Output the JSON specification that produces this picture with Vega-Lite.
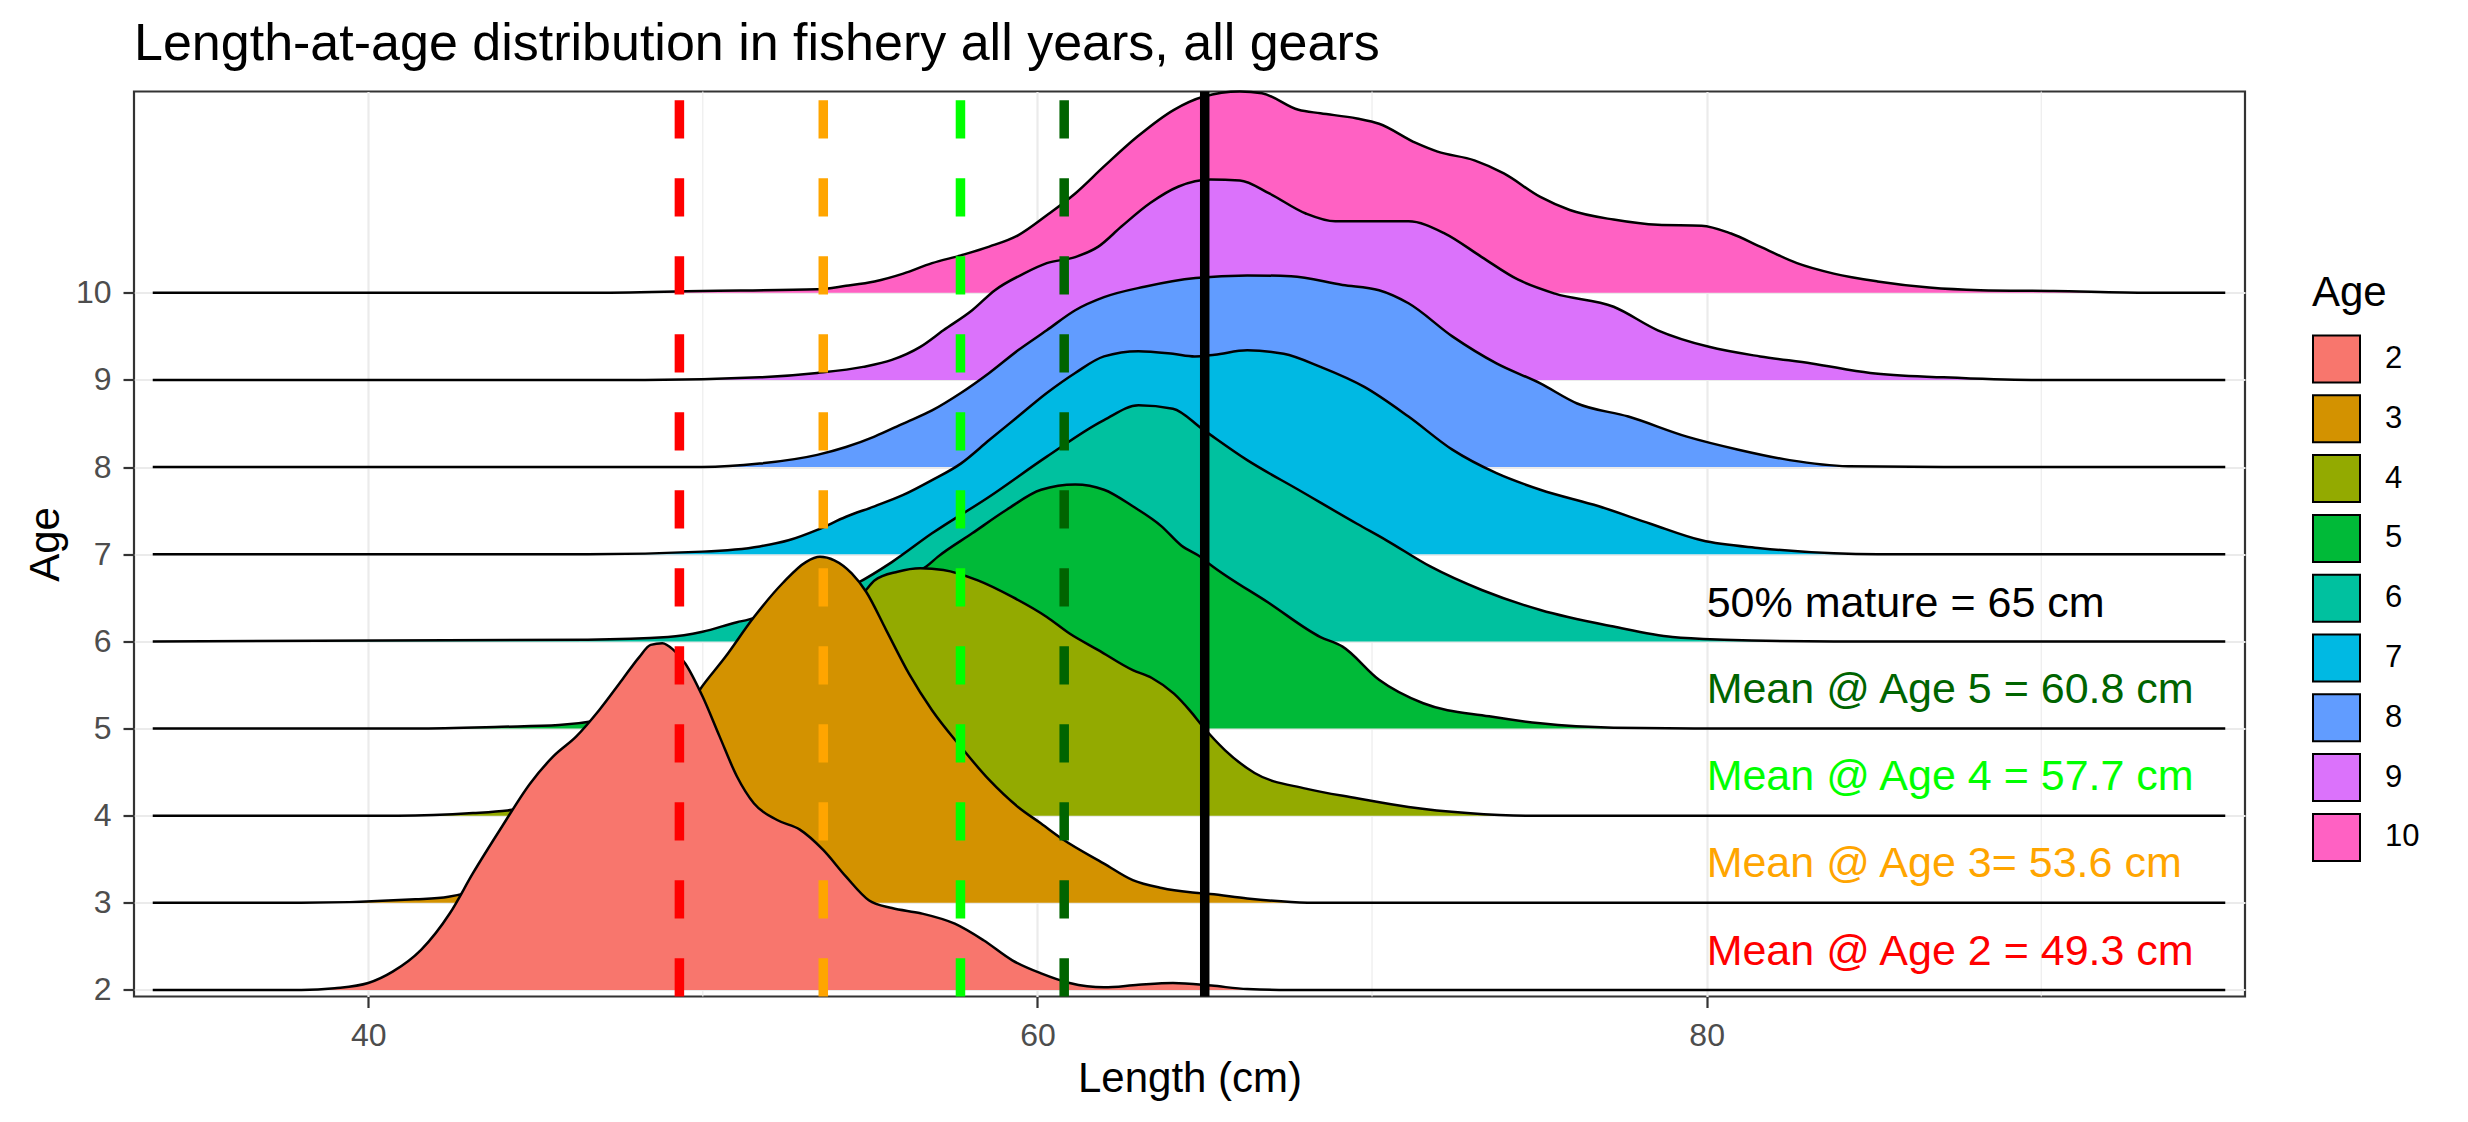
{
  "$schema": "https://vega.github.io/schema/vega-lite/v6.json",
  "width": 2111,
  "height": 905,
  "autosize": {"type": "none"},
  "padding": {"left": 134, "top": 91.5, "right": 223, "bottom": 125.5},
  "background": "white",
  "title": {"text": "Length-at-age distribution in fishery all years, all gears", "anchor": "start", "frame": "group", "fontSize": 52, "fontWeight": "normal", "color": "black", "font": "Liberation Sans", "baseline": "alphabetic", "offset": -25},
  "datasets": {
    "minor": [{"length": 50}, {"length": 70}, {"length": 90}],
    "means": [{"ref": "Age 2", "length": 49.3}, {"ref": "Age 3", "length": 53.6}, {"ref": "Age 4", "length": 57.7}, {"ref": "Age 5", "length": 60.8}],
    "mature": [{"ref": "Mature", "length": 65}],
    "notes": [
      {"ref": "Mature", "label": "50% mature = 65 cm", "length": 80, "level": 6.43},
      {"ref": "Age 5", "label": "Mean @ Age 5 = 60.8 cm", "length": 80, "level": 5.44},
      {"ref": "Age 4", "label": "Mean @ Age 4 = 57.7 cm", "length": 80, "level": 4.44},
      {"ref": "Age 3", "label": "Mean @ Age 3= 53.6 cm", "length": 80, "level": 3.44},
      {"ref": "Age 2", "label": "Mean @ Age 2 = 49.3 cm", "length": 80, "level": 2.44}
    ],
    "ridges": [
      {"age":2,"length":33.56,"top":2},{"age":2,"length":38,"top":2},{"age":2,"length":39,"top":2.02},{"age":2,"length":40,"top":2.08},{"age":2,"length":40.73,"top":2.21},{"age":2,"length":41.58,"top":2.46},{"age":2,"length":42.44,"top":2.88},{"age":2,"length":43.13,"top":3.34},{"age":2,"length":43.99,"top":3.87},{"age":2,"length":44.84,"top":4.37},{"age":2,"length":45.53,"top":4.68},{"age":2,"length":46.22,"top":4.91},{"age":2,"length":46.9,"top":5.21},{"age":2,"length":47.59,"top":5.56},{"age":2,"length":48.1,"top":5.82},{"age":2,"length":48.44,"top":5.96},{"age":2,"length":48.79,"top":5.98},{"age":2,"length":49.13,"top":5.9},{"age":2,"length":49.47,"top":5.75},{"age":2,"length":49.99,"top":5.37},{"age":2,"length":50.5,"top":4.91},{"age":2,"length":51.02,"top":4.45},{"age":2,"length":51.53,"top":4.14},{"age":2,"length":52.22,"top":3.95},{"age":2,"length":52.9,"top":3.84},{"age":2,"length":53.59,"top":3.61},{"age":2,"length":54.28,"top":3.3},{"age":2,"length":54.96,"top":3.03},{"age":2,"length":55.65,"top":2.94},{"age":2,"length":56.51,"top":2.88},{"age":2,"length":57.53,"top":2.76},{"age":2,"length":58.39,"top":2.57},{"age":2,"length":59.25,"top":2.34},{"age":2,"length":60.11,"top":2.19},{"age":2,"length":60.96,"top":2.08},{"age":2,"length":61.99,"top":2.03},{"age":2,"length":63.02,"top":2.06},{"age":2,"length":64.05,"top":2.08},{"age":2,"length":65.2,"top":2.05},{"age":2,"length":66.27,"top":2.01},{"age":2,"length":67.5,"top":2},{"age":2,"length":95.5,"top":2},
      {"age":3,"length":33.56,"top":3},{"age":3,"length":38,"top":3},{"age":3,"length":41.41,"top":3.04},{"age":3,"length":42.4,"top":3.07},{"age":3,"length":43,"top":3.12},{"age":3,"length":44.5,"top":3.35},{"age":3,"length":46,"top":3.75},{"age":3,"length":47.5,"top":4.3},{"age":3,"length":48.7,"top":4.8},{"age":3,"length":49.5,"top":5.2},{"age":3,"length":49.9,"top":5.44},{"age":3,"length":50.67,"top":5.82},{"age":3,"length":51.53,"top":6.28},{"age":3,"length":52.39,"top":6.67},{"age":3,"length":53.08,"top":6.91},{"age":3,"length":53.5,"top":6.97},{"age":3,"length":53.93,"top":6.93},{"age":3,"length":54.45,"top":6.78},{"age":3,"length":54.88,"top":6.57},{"age":3,"length":55.48,"top":6.13},{"age":3,"length":56.16,"top":5.63},{"age":3,"length":56.85,"top":5.21},{"age":3,"length":57.71,"top":4.79},{"age":3,"length":58.56,"top":4.41},{"age":3,"length":59.42,"top":4.1},{"age":3,"length":60.11,"top":3.91},{"age":3,"length":60.79,"top":3.72},{"age":3,"length":61.99,"top":3.45},{"age":3,"length":62.85,"top":3.26},{"age":3,"length":63.71,"top":3.17},{"age":3,"length":64.57,"top":3.12},{"age":3,"length":65.17,"top":3.1},{"age":3,"length":66.27,"top":3.05},{"age":3,"length":67.58,"top":3.01},{"age":3,"length":68.5,"top":3},{"age":3,"length":95.5,"top":3},
      {"age":4,"length":33.56,"top":4},{"age":4,"length":40.9,"top":4},{"age":4,"length":43.13,"top":4.03},{"age":4,"length":44.16,"top":4.06},{"age":4,"length":46,"top":4.2},{"age":4,"length":48,"top":4.5},{"age":4,"length":50,"top":5.0},{"age":4,"length":52,"top":5.6},{"age":4,"length":53.5,"top":6.1},{"age":4,"length":54.5,"top":6.45},{"age":4,"length":54.88,"top":6.59},{"age":4,"length":55.13,"top":6.7},{"age":4,"length":55.82,"top":6.8},{"age":4,"length":56.5,"top":6.84},{"age":4,"length":57.19,"top":6.82},{"age":4,"length":58.22,"top":6.7},{"age":4,"length":59.25,"top":6.51},{"age":4,"length":60.28,"top":6.28},{"age":4,"length":60.96,"top":6.09},{"age":4,"length":61.82,"top":5.9},{"age":4,"length":62.85,"top":5.67},{"age":4,"length":63.42,"top":5.58},{"age":4,"length":64.08,"top":5.4},{"age":4,"length":64.57,"top":5.2},{"age":4,"length":64.95,"top":5.02},{"age":4,"length":65.61,"top":4.75},{"age":4,"length":66.49,"top":4.49},{"age":4,"length":68.02,"top":4.31},{"age":4,"length":69.55,"top":4.2},{"age":4,"length":71.09,"top":4.1},{"age":4,"length":72.84,"top":4.03},{"age":4,"length":74.59,"top":4},{"age":4,"length":95.5,"top":4},
      {"age":5,"length":33.56,"top":5},{"age":5,"length":41.41,"top":5},{"age":5,"length":43.99,"top":5.02},{"age":5,"length":45.7,"top":5.04},{"age":5,"length":47,"top":5.1},{"age":5,"length":49,"top":5.3},{"age":5,"length":51,"top":5.6},{"age":5,"length":53,"top":6.0},{"age":5,"length":55,"top":6.45},{"age":5,"length":56.3,"top":6.78},{"age":5,"length":56.68,"top":6.86},{"age":5,"length":57.02,"top":6.97},{"age":5,"length":58.05,"top":7.24},{"age":5,"length":59.08,"top":7.51},{"age":5,"length":60.11,"top":7.74},{"age":5,"length":61.13,"top":7.8},{"age":5,"length":61.99,"top":7.74},{"age":5,"length":62.85,"top":7.55},{"age":5,"length":63.71,"top":7.32},{"age":5,"length":64.3,"top":7.1},{"age":5,"length":64.87,"top":6.97},{"age":5,"length":65.17,"top":6.88},{"age":5,"length":66.92,"top":6.44},{"age":5,"length":68.46,"top":6.05},{"age":5,"length":69.12,"top":5.94},{"age":5,"length":70.21,"top":5.56},{"age":5,"length":71.53,"top":5.29},{"age":5,"length":73.5,"top":5.14},{"age":5,"length":75.03,"top":5.06},{"age":5,"length":77.22,"top":5.01},{"age":5,"length":80.07,"top":5},{"age":5,"length":95.5,"top":5},
      {"age":6,"length":33.56,"top":6},{"age":6,"length":46.56,"top":6.02},{"age":6,"length":48.96,"top":6.05},{"age":6,"length":49.99,"top":6.11},{"age":6,"length":51.02,"top":6.22},{"age":6,"length":51.36,"top":6.25},{"age":6,"length":52,"top":6.33},{"age":6,"length":53,"top":6.45},{"age":6,"length":54,"top":6.56},{"age":6,"length":54.62,"top":6.67},{"age":6,"length":55.65,"top":6.91},{"age":6,"length":56.85,"top":7.24},{"age":6,"length":58.56,"top":7.66},{"age":6,"length":60.28,"top":8.12},{"age":6,"length":61.99,"top":8.54},{"age":6,"length":63.02,"top":8.71},{"age":6,"length":64.05,"top":8.67},{"age":6,"length":64.95,"top":8.43},{"age":6,"length":66.27,"top":8.08},{"age":6,"length":67.8,"top":7.74},{"age":6,"length":69.55,"top":7.35},{"age":6,"length":70.43,"top":7.16},{"age":6,"length":71.74,"top":6.86},{"age":6,"length":73.28,"top":6.59},{"age":6,"length":75.03,"top":6.36},{"age":6,"length":77.22,"top":6.17},{"age":6,"length":78.98,"top":6.05},{"age":6,"length":80.51,"top":6.02},{"age":6,"length":83.8,"top":6},{"age":6,"length":95.5,"top":6},
      {"age":7,"length":33.56,"top":7},{"age":7,"length":46.56,"top":7},{"age":7,"length":49.99,"top":7.03},{"age":7,"length":51.7,"top":7.09},{"age":7,"length":52.56,"top":7.16},{"age":7,"length":53.42,"top":7.28},{"age":7,"length":54.28,"top":7.43},{"age":7,"length":55.13,"top":7.55},{"age":7,"length":55.99,"top":7.68},{"age":7,"length":56.85,"top":7.85},{"age":7,"length":57.71,"top":8.04},{"age":7,"length":58.56,"top":8.31},{"age":7,"length":59.42,"top":8.58},{"age":7,"length":60.28,"top":8.85},{"age":7,"length":61.13,"top":9.08},{"age":7,"length":61.99,"top":9.27},{"age":7,"length":63.02,"top":9.33},{"age":7,"length":64.05,"top":9.3},{"age":7,"length":64.7,"top":9.27},{"age":7,"length":65.3,"top":9.29},{"age":7,"length":66.27,"top":9.34},{"age":7,"length":67.36,"top":9.3},{"age":7,"length":68.46,"top":9.15},{"age":7,"length":69.77,"top":8.92},{"age":7,"length":71.09,"top":8.58},{"age":7,"length":72.4,"top":8.2},{"age":7,"length":73.72,"top":7.93},{"age":7,"length":75.03,"top":7.74},{"age":7,"length":76.78,"top":7.55},{"age":7,"length":78.32,"top":7.35},{"age":7,"length":79.85,"top":7.16},{"age":7,"length":81.6,"top":7.07},{"age":7,"length":83.8,"top":7.01},{"age":7,"length":85.11,"top":7},{"age":7,"length":95.5,"top":7},
      {"age":8,"length":33.56,"top":8},{"age":8,"length":49.99,"top":8},{"age":8,"length":51.7,"top":8.04},{"age":8,"length":53.42,"top":8.14},{"age":8,"length":54.28,"top":8.23},{"age":8,"length":55.13,"top":8.35},{"age":8,"length":55.99,"top":8.5},{"age":8,"length":56.85,"top":8.65},{"age":8,"length":57.71,"top":8.85},{"age":8,"length":58.56,"top":9.08},{"age":8,"length":59.42,"top":9.34},{"age":8,"length":60.28,"top":9.57},{"age":8,"length":61.13,"top":9.8},{"age":8,"length":61.99,"top":9.95},{"age":8,"length":63.2,"top":10.07},{"age":8,"length":64.73,"top":10.17},{"age":8,"length":66.27,"top":10.2},{"age":8,"length":67.58,"top":10.19},{"age":8,"length":69.12,"top":10.09},{"age":8,"length":70.21,"top":10.03},{"age":8,"length":71.09,"top":9.88},{"age":8,"length":72.4,"top":9.5},{"age":8,"length":73.72,"top":9.19},{"age":8,"length":75.03,"top":8.96},{"age":8,"length":76.13,"top":8.73},{"age":8,"length":77.66,"top":8.58},{"age":8,"length":79.41,"top":8.35},{"age":8,"length":80.95,"top":8.2},{"age":8,"length":82.48,"top":8.08},{"age":8,"length":84.23,"top":8.01},{"age":8,"length":87.08,"top":8},{"age":8,"length":95.5,"top":8},
      {"age":9,"length":33.56,"top":9},{"age":9,"length":48.27,"top":9},{"age":9,"length":51.7,"top":9.03},{"age":9,"length":53.42,"top":9.08},{"age":9,"length":54.79,"top":9.15},{"age":9,"length":55.65,"top":9.23},{"age":9,"length":56.5,"top":9.38},{"age":9,"length":57.19,"top":9.57},{"age":9,"length":58.05,"top":9.8},{"age":9,"length":58.73,"top":10.03},{"age":9,"length":59.59,"top":10.22},{"age":9,"length":60.28,"top":10.34},{"age":9,"length":61.13,"top":10.41},{"age":9,"length":61.82,"top":10.53},{"age":9,"length":62.51,"top":10.76},{"age":9,"length":63.37,"top":11.03},{"age":9,"length":64.22,"top":11.22},{"age":9,"length":65.17,"top":11.3},{"age":9,"length":66.05,"top":11.29},{"age":9,"length":66.93,"top":11.14},{"age":9,"length":68.02,"top":10.91},{"age":9,"length":68.9,"top":10.82},{"age":9,"length":71.09,"top":10.82},{"age":9,"length":72.18,"top":10.68},{"age":9,"length":73.28,"top":10.41},{"age":9,"length":74.37,"top":10.15},{"age":9,"length":75.47,"top":9.99},{"age":9,"length":77.22,"top":9.84},{"age":9,"length":78.54,"top":9.57},{"age":9,"length":80.07,"top":9.38},{"age":9,"length":81.6,"top":9.27},{"age":9,"length":83.14,"top":9.19},{"age":9,"length":84.89,"top":9.08},{"age":9,"length":87.08,"top":9.03},{"age":9,"length":89.71,"top":9},{"age":9,"length":95.5,"top":9},
      {"age":10,"length":33.56,"top":10},{"age":10,"length":46.56,"top":10},{"age":10,"length":49.99,"top":10.02},{"age":10,"length":53.42,"top":10.04},{"age":10,"length":54.28,"top":10.08},{"age":10,"length":55.13,"top":10.13},{"age":10,"length":55.99,"top":10.22},{"age":10,"length":56.85,"top":10.34},{"age":10,"length":57.71,"top":10.43},{"age":10,"length":58.56,"top":10.53},{"age":10,"length":59.42,"top":10.66},{"age":10,"length":60.28,"top":10.89},{"age":10,"length":61.13,"top":11.14},{"age":10,"length":61.99,"top":11.45},{"age":10,"length":62.98,"top":11.79},{"age":10,"length":64.08,"top":12.1},{"age":10,"length":64.95,"top":12.25},{"age":10,"length":66.05,"top":12.31},{"age":10,"length":66.71,"top":12.29},{"age":10,"length":67.8,"top":12.1},{"age":10,"length":68.46,"top":12.06},{"age":10,"length":69.55,"top":12.0},{"age":10,"length":70.21,"top":11.94},{"age":10,"length":71.31,"top":11.72},{"age":10,"length":71.96,"top":11.62},{"age":10,"length":73.06,"top":11.52},{"age":10,"length":73.94,"top":11.37},{"age":10,"length":75.03,"top":11.1},{"age":10,"length":75.91,"top":10.95},{"age":10,"length":77.22,"top":10.84},{"age":10,"length":78.54,"top":10.78},{"age":10,"length":79.85,"top":10.77},{"age":10,"length":80.73,"top":10.68},{"age":10,"length":81.6,"top":10.53},{"age":10,"length":82.7,"top":10.34},{"age":10,"length":83.8,"top":10.22},{"age":10,"length":85.11,"top":10.13},{"age":10,"length":86.65,"top":10.06},{"age":10,"length":88.18,"top":10.03},{"age":10,"length":90.37,"top":10.02},{"age":10,"length":93.22,"top":10},{"age":10,"length":95.5,"top":10}
    ]
  },
  "layer": [
    {
      "data": {"name": "minor"},
      "mark": {"type": "rule", "color": "#EBEBEB", "strokeWidth": 1.1},
      "encoding": {
        "x": {"field": "length", "type": "quantitative", "title": "Length (cm)", "scale": {"domain": [33, 96.09], "nice": false, "zero": false}, "axis": {"values": [40, 60, 80], "format": "d"}}
      }
    },
    {
      "data": {"name": "ridges"},
      "encoding": {
        "x": {"field": "length", "type": "quantitative", "title": "Length (cm)", "scale": {"domain": [33, 96.09], "nice": false, "zero": false}, "axis": {"values": [40, 60, 80], "format": "d"}},
        "y": {"field": "top", "type": "quantitative", "title": "Age", "scale": {"domain": [1.925, 12.31], "nice": false, "zero": false}, "axis": {"values": [2, 3, 4, 5, 6, 7, 8, 9, 10], "format": "d"}}
      },
      "layer": [
        {"transform": [{"filter": "datum.age === 10"}], "layer": [
          {"mark": {"type": "area", "interpolate": "monotone"}, "encoding": {"y2": {"field": "age"}, "fill": {"field": "age", "type": "ordinal", "title": "Age", "scale": {"domain": [2, 3, 4, 5, 6, 7, 8, 9, 10], "range": ["#F8766D", "#D39200", "#93AA00", "#00BA38", "#00C19F", "#00B9E3", "#619CFF", "#DB72FB", "#FF61C3"]}, "legend": {"orient": "none", "legendX": 2178, "legendY": 181}}}},
          {"mark": {"type": "line", "interpolate": "monotone", "color": "black", "strokeWidth": 2.5}, "encoding": {}}
        ]},
        {"transform": [{"filter": "datum.age === 9"}], "layer": [
          {"mark": {"type": "area", "interpolate": "monotone"}, "encoding": {"y2": {"field": "age"}, "fill": {"field": "age", "type": "ordinal", "title": "Age", "legend": {"orient": "none", "legendX": 2178, "legendY": 181}}}},
          {"mark": {"type": "line", "interpolate": "monotone", "color": "black", "strokeWidth": 2.5}, "encoding": {}}
        ]},
        {"transform": [{"filter": "datum.age === 8"}], "layer": [
          {"mark": {"type": "area", "interpolate": "monotone"}, "encoding": {"y2": {"field": "age"}, "fill": {"field": "age", "type": "ordinal", "title": "Age", "legend": {"orient": "none", "legendX": 2178, "legendY": 181}}}},
          {"mark": {"type": "line", "interpolate": "monotone", "color": "black", "strokeWidth": 2.5}, "encoding": {}}
        ]},
        {"transform": [{"filter": "datum.age === 7"}], "layer": [
          {"mark": {"type": "area", "interpolate": "monotone"}, "encoding": {"y2": {"field": "age"}, "fill": {"field": "age", "type": "ordinal", "title": "Age", "legend": {"orient": "none", "legendX": 2178, "legendY": 181}}}},
          {"mark": {"type": "line", "interpolate": "monotone", "color": "black", "strokeWidth": 2.5}, "encoding": {}}
        ]},
        {"transform": [{"filter": "datum.age === 6"}], "layer": [
          {"mark": {"type": "area", "interpolate": "monotone"}, "encoding": {"y2": {"field": "age"}, "fill": {"field": "age", "type": "ordinal", "title": "Age", "legend": {"orient": "none", "legendX": 2178, "legendY": 181}}}},
          {"mark": {"type": "line", "interpolate": "monotone", "color": "black", "strokeWidth": 2.5}, "encoding": {}}
        ]},
        {"transform": [{"filter": "datum.age === 5"}], "layer": [
          {"mark": {"type": "area", "interpolate": "monotone"}, "encoding": {"y2": {"field": "age"}, "fill": {"field": "age", "type": "ordinal", "title": "Age", "legend": {"orient": "none", "legendX": 2178, "legendY": 181}}}},
          {"mark": {"type": "line", "interpolate": "monotone", "color": "black", "strokeWidth": 2.5}, "encoding": {}}
        ]},
        {"transform": [{"filter": "datum.age === 4"}], "layer": [
          {"mark": {"type": "area", "interpolate": "monotone"}, "encoding": {"y2": {"field": "age"}, "fill": {"field": "age", "type": "ordinal", "title": "Age", "legend": {"orient": "none", "legendX": 2178, "legendY": 181}}}},
          {"mark": {"type": "line", "interpolate": "monotone", "color": "black", "strokeWidth": 2.5}, "encoding": {}}
        ]},
        {"transform": [{"filter": "datum.age === 3"}], "layer": [
          {"mark": {"type": "area", "interpolate": "monotone"}, "encoding": {"y2": {"field": "age"}, "fill": {"field": "age", "type": "ordinal", "title": "Age", "legend": {"orient": "none", "legendX": 2178, "legendY": 181}}}},
          {"mark": {"type": "line", "interpolate": "monotone", "color": "black", "strokeWidth": 2.5}, "encoding": {}}
        ]},
        {"transform": [{"filter": "datum.age === 2"}], "layer": [
          {"mark": {"type": "area", "interpolate": "monotone"}, "encoding": {"y2": {"field": "age"}, "fill": {"field": "age", "type": "ordinal", "title": "Age", "legend": {"orient": "none", "legendX": 2178, "legendY": 181}}}},
          {"mark": {"type": "line", "interpolate": "monotone", "color": "black", "strokeWidth": 2.5}, "encoding": {}}
        ]}
      ]
    },
    {
      "data": {"name": "means"},
      "mark": {"type": "rule", "strokeWidth": 9.5, "strokeDash": [38.3, 39.7], "strokeCap": "butt"},
      "encoding": {
        "x": {"field": "length", "type": "quantitative", "title": "Length (cm)"},
        "y": {"datum": 1.925, "type": "quantitative"},
        "y2": {"datum": 12.31},
        "color": {"field": "ref", "type": "nominal", "legend": null, "scale": {"domain": ["Age 2", "Age 3", "Age 4", "Age 5", "Mature"], "range": ["#FF0000", "#FFA500", "#00FF00", "#006400", "#000000"]}}
      }
    },
    {
      "data": {"name": "mature"},
      "mark": {"type": "rule", "strokeWidth": 9.5},
      "encoding": {
        "x": {"field": "length", "type": "quantitative", "title": "Length (cm)"},
        "color": {"field": "ref", "type": "nominal", "legend": null}
      }
    },
    {
      "data": {"name": "notes"},
      "mark": {"type": "text", "align": "left", "baseline": "middle", "fontSize": 43, "font": "Liberation Sans"},
      "encoding": {
        "x": {"field": "length", "type": "quantitative", "title": "Length (cm)"},
        "y": {"field": "level", "type": "quantitative", "title": "Age"},
        "text": {"field": "label"},
        "color": {"field": "ref", "type": "nominal", "legend": null}
      }
    }
  ],
  "config": {
    "font": "Liberation Sans",
    "view": {"stroke": "#333333", "strokeWidth": 2.2},
    "axis": {"domain": false, "grid": true, "gridColor": "#EBEBEB", "gridWidth": 2.2, "tickColor": "#333333", "tickWidth": 2.2, "tickSize": 11, "labelFontSize": 32, "labelColor": "#4D4D4D", "labelFont": "Liberation Sans", "titleFont": "Liberation Sans", "titleFontSize": 42, "titleFontWeight": "normal", "titleColor": "black"},
    "axisX": {"labelPadding": 13, "titlePadding": 7},
    "axisY": {"labelPadding": 12, "titlePadding": 8},
    "legend": {"titleFontSize": 42, "titleFont": "Liberation Sans", "titleFontWeight": "normal", "titleColor": "black", "titlePadding": 20, "labelFontSize": 31, "labelFont": "Liberation Sans", "labelColor": "black", "labelOffset": 24, "symbolType": "square", "symbolSize": 2209, "symbolStrokeColor": "black", "symbolStrokeWidth": 2, "symbolOpacity": 1, "rowPadding": 4.8, "padding": 0}
  }
}
